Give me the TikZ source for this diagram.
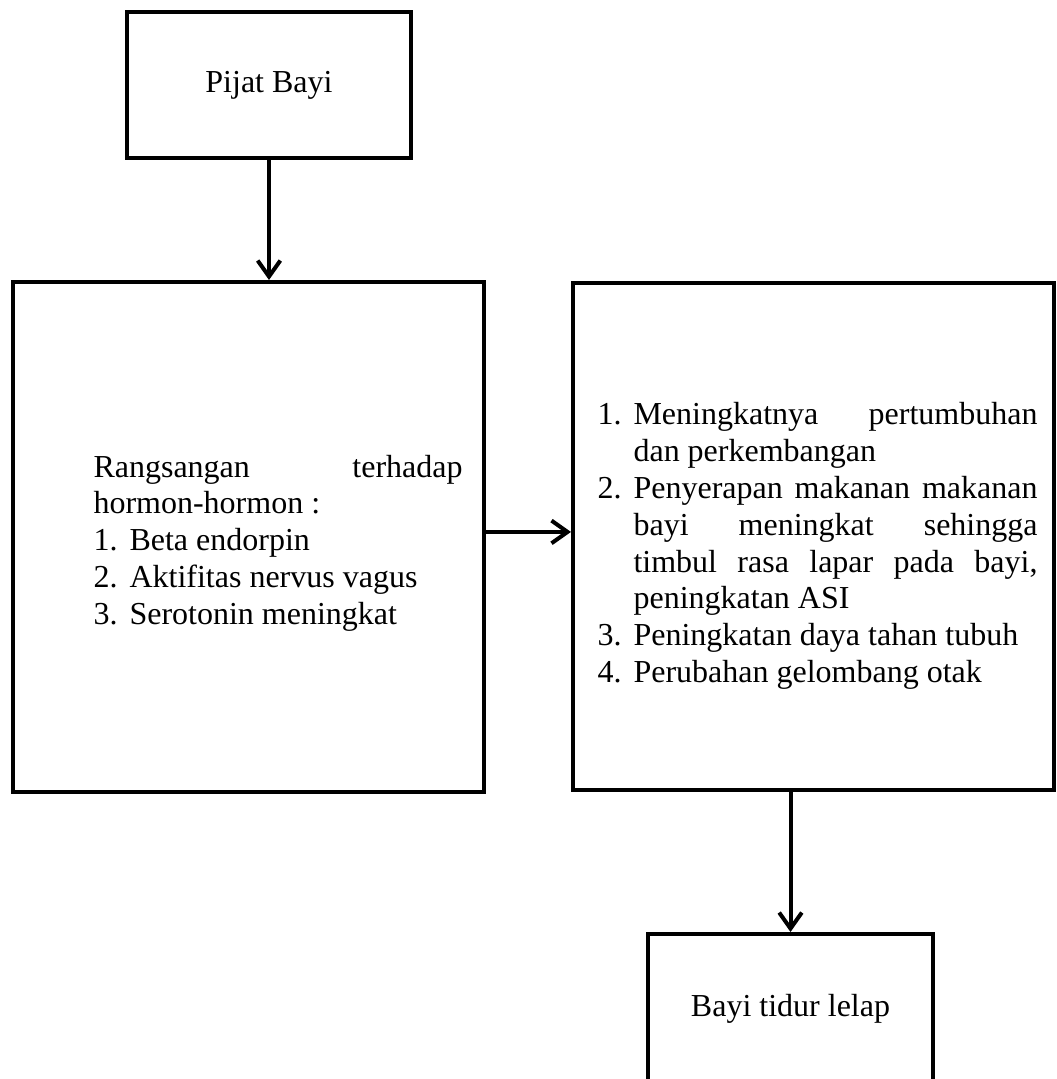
\documentclass[tikz,border=0pt]{standalone}
\usepackage{fontspec}
\setmainfont{Liberation Serif}
\usepackage{tikz}
\usetikzlibrary{arrows.meta}
\tikzset{
  kotak/.style={draw,line width=1.5pt,inner sep=0pt,font=\fontsize{12}{13.8}\selectfont},
  isi/.style={inner sep=0pt,anchor=west,font=\fontsize{12}{13.8}\selectfont},
  panah/.style={line width=1.5pt,-{Straight Barb[length=6pt,width=8.5pt]}}
}
\newcommand{\butir}[2]{\hangindent=13.5pt\hangafter=1\noindent\makebox[13.5pt][l]{#1}#2\par}
\newcommand{\rata}{\tolerance=10000\relax\hyphenpenalty=10000\relax\exhyphenpenalty=10000\relax}

\begin{document}
\begin{tikzpicture}[x=0.375pt,y=-0.375pt]
\useasboundingbox (0,0) rectangle (1057,1079);
\node[kotak,minimum width=106.6pt,minimum height=54.75pt] (pijat) at (269,85) {Pijat Bayi};
\node[kotak,minimum width=176.6pt,minimum height=191.25pt] (rang) at (248.5,537) {};
\node[kotak,minimum width=180.4pt,minimum height=190.1pt] (manfaat) at (813.5,536.5) {};
\node[kotak,minimum width=106.9pt,minimum height=56.25pt] (tidur) at (790.5,1009) {Bayi tidur lelap};
\node[isi] (rangisi) at (93,543) {\parbox{138.4pt}{\rata
\noindent Rangsangan terhadap\linebreak hormon-hormon~:\par
\butir{1.}{Beta endorpin}
\butir{2.}{Aktifitas nervus vagus}
\butir{3.}{Serotonin meningkat}}};
\node[isi] (manfaatisi) at (597,546) {\parbox{165pt}{\rata
\butir{1.}{Meningkatnya pertumbuhan\linebreak dan perkembangan}
\butir{2.}{Penyerapan makanan makanan\linebreak bayi meningkat sehingga\linebreak timbul rasa lapar pada bayi,\linebreak peningkatan ASI}
\butir{3.}{Peningkatan daya tahan tubuh}
\butir{4.}{Perubahan gelombang otak}}};
\draw[panah] (pijat.south) -- (pijat.south |- rang.north);
\draw[panah] ([yshift=1.9pt]rang.east) -- ([yshift=1.9pt]rang.east -| manfaat.west);
\draw[panah] (manfaat.south -| tidur.north) -- (tidur.north);
\end{tikzpicture}
\end{document}
